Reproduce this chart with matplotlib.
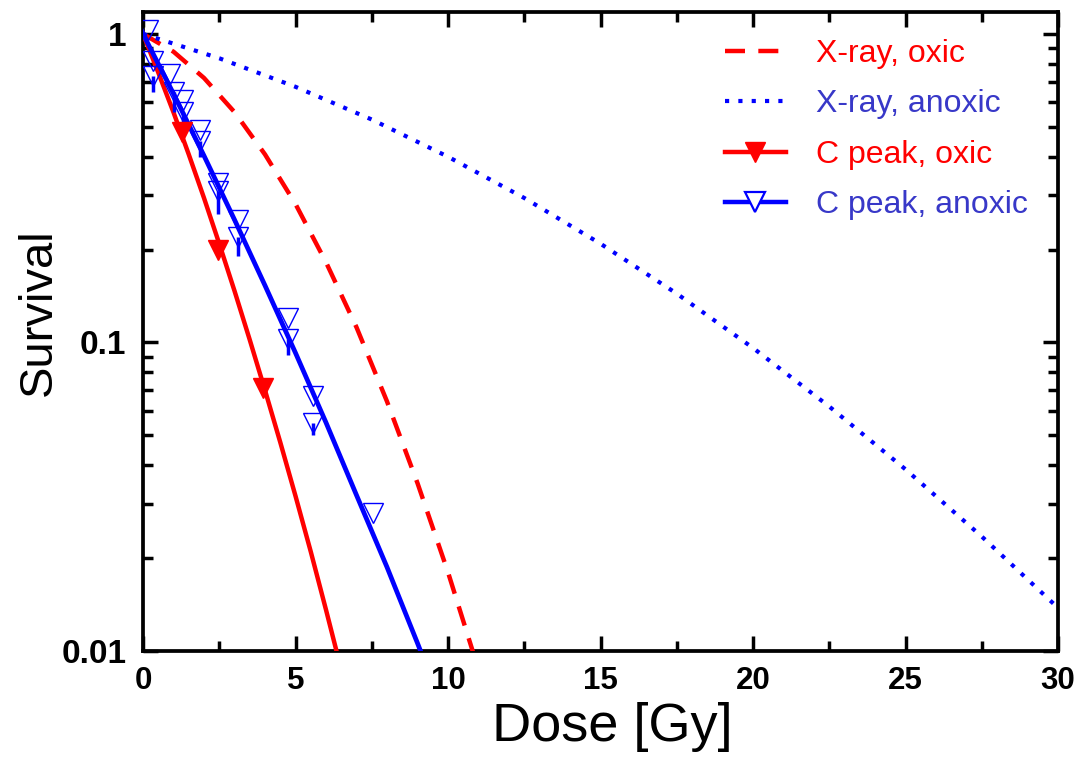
import matplotlib
matplotlib.use("Agg")
import matplotlib.pyplot as plt
from matplotlib.ticker import FixedLocator, NullFormatter, LogLocator
from matplotlib.lines import Line2D

# ---- data ----
xray_oxic_dose = [0, 1, 2, 3, 4, 5, 6, 7, 8, 9, 10, 11]
xray_oxic_surv = [1.0, 0.876, 0.72, 0.558, 0.407, 0.281, 0.182, 0.112, 0.0644, 0.035, 0.018, 0.0087]

xray_anoxic_dose = [0, 2.5, 5, 7.5, 10, 12.5, 15, 17.5, 20, 22.5, 25, 27.5, 30]
xray_anoxic_surv = [1.0, 0.834, 0.674, 0.528, 0.40, 0.294, 0.209, 0.144, 0.096, 0.062, 0.0388, 0.0235, 0.0138]

cpeak_oxic_line_dose = [0, 0.5, 1, 1.5, 2, 2.5, 3, 3.5, 4, 4.5, 5, 5.5, 6, 6.5]
cpeak_oxic_line_surv = [1.0, 0.75, 0.557, 0.407, 0.294, 0.209, 0.147, 0.102, 0.070, 0.0475, 0.0318, 0.0210, 0.0136, 0.0087]
cpeak_oxic_pt_dose = [1.28, 2.46, 3.93]
cpeak_oxic_pt_surv = [0.48, 0.199, 0.0714]

cpeak_anoxic_line_dose = [0, 1, 2, 3, 4, 5, 6, 7, 8, 9, 9.3]
cpeak_anoxic_line_surv = [1.0, 0.64, 0.403, 0.25, 0.153, 0.0925, 0.055, 0.032, 0.0187, 0.0106, 0.0089]
cpeak_anoxic_pt_dose = [0.15, 0.33, 0.33, 0.9, 1.0, 1.31, 1.31, 1.87, 1.87, 2.46, 2.46, 3.11, 3.11, 4.75, 4.75, 5.57, 5.57, 7.54]
cpeak_anoxic_pt_surv = [1.03, 0.82, 0.73, 0.74, 0.65, 0.61, 0.56, 0.49, 0.45, 0.33, 0.31, 0.25, 0.22, 0.12, 0.103, 0.067, 0.055, 0.028]
cpeak_anoxic_err = [0.0, 0.0, 0.08, 0.0, 0.09, 0.0, 0.08, 0.0, 0.05, 0.0, 0.05, 0.0, 0.03, 0.0, 0.012, 0.0, 0.005, 0.0]

legend_labels = ["X-ray, oxic", "X-ray, anoxic", "C peak, oxic", "C peak, anoxic"]

RED = "#ff0000"
BLUE = "#0000ff"
BLUE_TXT = "#3838c8"
SANS = ['Liberation Sans', 'DejaVu Sans']

fig = plt.figure(figsize=(10.74, 7.70), dpi=100)
ax = fig.add_axes([143/1074, 1-651/770, (1058-143)/1074, (651-12)/770])

ax.plot(xray_oxic_dose, xray_oxic_surv, color=RED, lw=3.2, ls=(0, (4.5, 3)), zorder=3)
ax.plot(xray_anoxic_dose, xray_anoxic_surv, color=BLUE, lw=3, ls=(0, (1, 2.2)), zorder=3)
ax.plot(cpeak_oxic_line_dose, cpeak_oxic_line_surv, color=RED, lw=3.2, zorder=4)
ax.plot(cpeak_anoxic_line_dose, cpeak_anoxic_line_surv, color=BLUE, lw=3.4, zorder=5)

ax.errorbar(cpeak_anoxic_pt_dose, cpeak_anoxic_pt_surv,
            yerr=[cpeak_anoxic_err, [0]*len(cpeak_anoxic_err)],
            fmt='none', ecolor=BLUE, elinewidth=2.5, capsize=0, zorder=5)
ax.plot(cpeak_anoxic_pt_dose, cpeak_anoxic_pt_surv, ls='none', marker='v', ms=14,
        mfc='none', mec=BLUE, mew=1.0, zorder=6)
ax.plot(cpeak_oxic_pt_dose, cpeak_oxic_pt_surv, ls='none', marker='v', ms=14,
        mfc=RED, mec=RED, zorder=6)

ax.set_yscale('log')
ax.set_xlim(0, 30)
ax.set_ylim(0.01, 1.178)

ax.xaxis.set_major_locator(FixedLocator([0, 5, 10, 15, 20, 25, 30]))
ax.xaxis.set_minor_locator(FixedLocator([2.5, 7.5, 12.5, 17.5, 22.5, 27.5]))
ax.yaxis.set_major_locator(FixedLocator([0.01, 0.1, 1]))
ax.yaxis.set_minor_locator(LogLocator(base=10, subs=range(2, 10)))
ax.yaxis.set_minor_formatter(NullFormatter())
ax.set_yticklabels(["0.01", "0.1", "1"])
ax.set_xticklabels(["0", "5", "10", "15", "20", "25", "30"])

for lab in ax.get_yticklabels():
    lab.set_fontfamily(SANS)
    lab.set_fontweight('bold')
    lab.set_fontsize(24)
for lab in ax.get_xticklabels():
    lab.set_fontfamily(SANS)
    lab.set_fontweight('bold')
    lab.set_fontsize(22.5)

ax.tick_params(which='major', direction='in', length=11, width=2.5, top=True, right=True)
ax.tick_params(axis='x', which='major', pad=11)
ax.tick_params(axis='y', which='major', pad=12)
ax.tick_params(which='minor', direction='in', length=7, width=2.5, top=True, right=True)
for s in ax.spines.values():
    s.set_linewidth(2.7)

ax.set_xlabel("Dose [Gy]", fontsize=39, family=SANS, labelpad=4)
ax.set_ylabel("Survival", fontsize=34, family=SANS, labelpad=0)
ax.xaxis.label.set_x((612-143)/915)
ax.yaxis.label.set_y((651-312)/639)

handles = [
    Line2D([], [], color=RED, lw=3.2, ls=(0, (4.5, 3))),
    Line2D([], [], color=BLUE, lw=3, ls=(0, (1, 2.2))),
    Line2D([], [], color=RED, lw=3.2, marker='v', ms=15, mfc=RED, mec=RED),
    Line2D([], [], color=BLUE, lw=3.2, marker='v', ms=15, mfc='white', mec=BLUE, mew=1.6),
]
leg = ax.legend(handles, legend_labels, loc='upper left', frameon=False,
                prop={'family': SANS, 'size': 23},
                handlelength=1.9, handletextpad=0.95, labelspacing=0.64,
                borderpad=0, borderaxespad=0,
                bbox_to_anchor=((725-143)/915, 1-(39-12)/639))
for t, c in zip(leg.get_texts(), [RED, BLUE_TXT, RED, BLUE_TXT]):
    t.set_color(c)

fig.savefig("out.png", dpi=100)
